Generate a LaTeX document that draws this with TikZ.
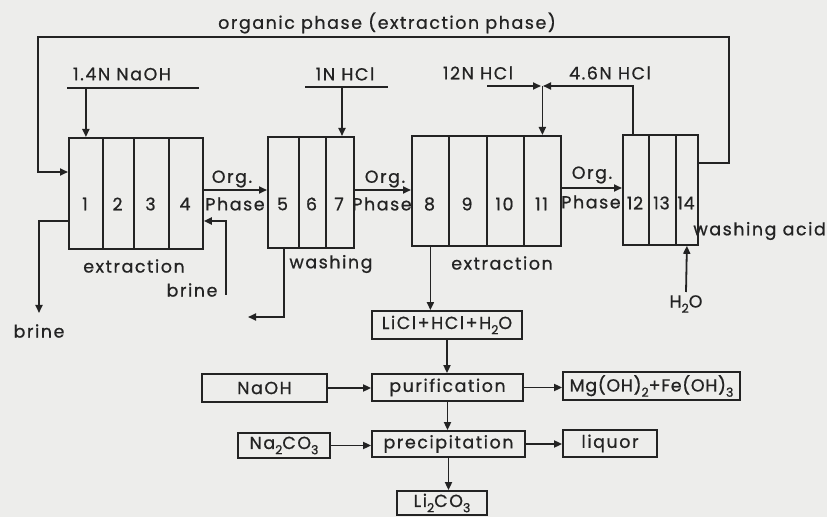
\documentclass[tikz,border=0pt]{standalone}
\usepackage{fontspec}
\setmainfont{Poppins}[LetterSpace=9,FakeBold=0.8]
\newfontfamily\tightfont{Poppins}[LetterSpace=4,FakeBold=0.8]
\usetikzlibrary{arrows.meta}
\definecolor{bg}{RGB}{237,237,235}
\definecolor{ink}{RGB}{35,35,35}
\newcommand\sbs[1]{\raisebox{-0.55ex}{\fontsize{12.5}{13}\selectfont #1}}
\begin{document}
\begin{tikzpicture}[x=1bp,y=-1bp,
  every node/.style={font=\fontsize{17.5}{20}\selectfont, inner sep=0pt, text=ink},
  ln/.style={line width=1.8bp, draw=ink},
  arr/.style={ln, -{Triangle[length=8bp,width=7bp]}},
  cell/.style={draw=ink, line width=1.8bp, rectangle, anchor=north west},
  box/.style={draw=ink, line width=1.8bp, rectangle}]
\fill[bg] (0,0) rectangle (827,517);
\useasboundingbox (0,0) rectangle (827,517);
% box 1
\node[cell, minimum width=34bp, minimum height=111bp] (c1) at (68,137) {};
\node[cell, minimum width=31bp, minimum height=111bp] (c2) at (102,137) {};
\node[cell, minimum width=35bp, minimum height=111bp] (c3) at (133,137) {};
\node[cell, minimum width=34bp, minimum height=111bp] (c4) at (168,137) {};
% box 2
\node[cell, minimum width=31bp, minimum height=111bp] (c5) at (267,136) {};
\node[cell, minimum width=27bp, minimum height=111bp] (c6) at (298,136) {};
\node[cell, minimum width=28bp, minimum height=111bp] (c7) at (325,136) {};
% box 3
\node[cell, minimum width=37bp, minimum height=110bp] (c8) at (411,135) {};
\node[cell, minimum width=38bp, minimum height=110bp] (c9) at (448,135) {};
\node[cell, minimum width=37bp, minimum height=110bp] (c10) at (486,135) {};
\node[cell, minimum width=37bp, minimum height=110bp] (c11) at (523,135) {};
% box 4
\node[cell, minimum width=26bp, minimum height=110bp] (c12) at (622,134) {};
\node[cell, minimum width=27bp, minimum height=110bp] (c13) at (648,134) {};
\node[cell, minimum width=22bp, minimum height=110bp] (c14) at (675,134) {};
% numbers
\node (n1) at (85,204) {1};
\node (n2) at (117.5,204) {2};
\node (n3) at (150.5,204) {3};
\node (n4) at (185,204) {4};
\node (n5) at (282.5,204) {5};
\node (n6) at (311.5,204) {6};
\node (n7) at (339,204) {7};
\node (n8) at (429.5,204) {8};
\node (n9) at (467,204) {9};
\node (n10) at (504.5,204) {10};
\node (n11) at (541.5,204) {11};
\node[font=\tightfont\fontsize{17.5}{20}\selectfont] (n12) at (635,203) {12};
\node[font=\tightfont\fontsize{17.5}{20}\selectfont] (n13) at (661.5,203) {13};
\node[font=\tightfont\fontsize{17.5}{20}\selectfont] (n14) at (686,203) {14};
% labels
\node (op) at (387,23) {organic phase (extraction phase)};
\node (naohA) at (122,74) {1.4N NaOH};
\node (hclA) at (345,74) {1N HCl};
\node (hclB) at (478,73) {12N HCl};
\node (hclC) at (610,73) {4.6N HCl};
\node (orgA) at (232,179) {Org.};
\node (phA) at (235,204) {Phase};
\node (orgB) at (385,179) {Org.};
\node (phB) at (382,204) {Phase};
\node (orgC) at (592,175) {Org.};
\node (phC) at (591,202) {Phase};
\node (extA) at (134,266) {extraction};
\node (wash) at (331,264) {washing};
\node (extB) at (502,263) {extraction};
\node[anchor=east] (wacid) at (826,231) {washing acid};
\node (brineL) at (39,331) {brine};
\node (brineR) at (192,290) {brine};
\node (h2o) at (686,304) {H\sbs{2}O};
% lower boxes
\node[box, minimum width=150bp, minimum height=28bp] (licl) at (447,325) {LiCl+HCl+H\sbs{2}O};
\node[box, minimum width=151bp, minimum height=27bp] (pur) at (447.5,387.5) {purification};
\node[box, minimum width=125bp, minimum height=28bp] (naoh) at (264.5,388) {NaOH};
\node[box, minimum width=177bp, minimum height=28bp, font=\tightfont\fontsize{17.5}{20}\selectfont] (mg) at (651.5,386) {Mg(OH)\sbs{2}+Fe(OH)\sbs{3}};
\node[box, minimum width=153bp, minimum height=26bp] (prec) at (448.5,444) {precipitation};
\node[box, minimum width=92bp, minimum height=25bp] (naco) at (284,445.5) {Na\sbs{2}CO\sbs{3}};
\node[box, minimum width=94bp, minimum height=27bp] (liq) at (610,443.5) {liquor};
\node[box, minimum width=90bp, minimum height=24bp] (lico) at (442,503) {Li\sbs{2}CO\sbs{3}};
% connectors
\draw[arr] (c14.east |- 0,163) -- (729,163) |- (38,37) |- (c1.west |- 0,172);
\draw[ln] (67,88) -- (199,88);
\draw[arr] (c1.north |- 0,88) -- (c1.north);
\draw[ln] (305,87) -- (388,87);
\draw[arr] (342,87) -- (342,0 |- c7.north);
\draw[arr] (487,86) -- (541,86);
\draw[arr] (633,0 |- c12.north) |- (543,86);
\draw[arr] (c11.north |- 0,86) -- (c11.north);
\draw[arr] (c4.east |- 0,190) -- (c5.west |- 0,190);
\draw[arr] (c7.east |- 0,190) -- (c8.west |- 0,190);
\draw[arr] (c11.east |- 0,188) -- (c12.west |- 0,188);
\draw[arr] (c1.west |- 0,221) -| (39,313);
\draw[arr] (226,295) |- (c4.east |- 0,221);
\draw[arr] (284,0 |- c5.south) |- (248,317);
\draw[arr] (h2o.north |- 0,292) -- (c14.south);
\draw[arr] (c8.south) -- (c8.south |- licl.north);
\draw[arr] (licl.south) -- (licl.south |- pur.north);
\draw[arr] (naoh.east) -- (naoh.east -| pur.west);
\draw[arr] (pur.east) -- (pur.east -| mg.west);
\draw[arr] (pur.south) -- (pur.south |- prec.north);
\draw[arr] (naco.east) -- (naco.east -| prec.west);
\draw[arr] (prec.east) -- (prec.east -| liq.west);
\draw[arr] (prec.south) -- (prec.south |- lico.north);
\end{tikzpicture}
\end{document}
